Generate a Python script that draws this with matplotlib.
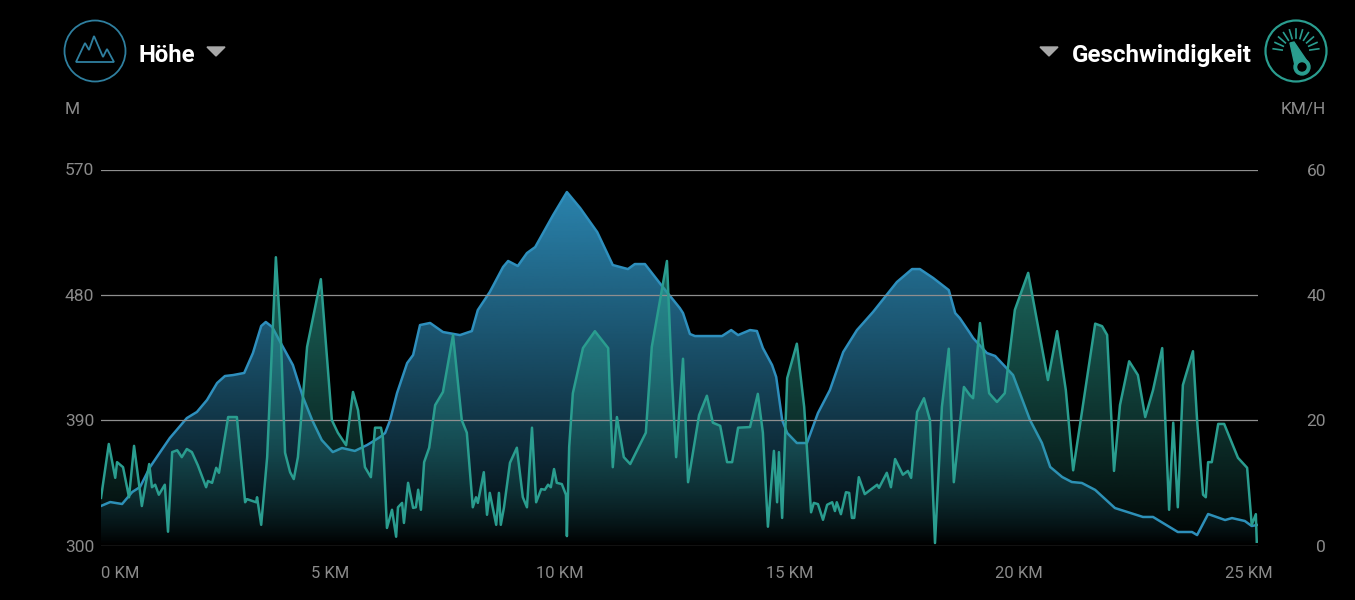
import matplotlib
matplotlib.use("Agg")
import matplotlib.pyplot as plt
import numpy as np
from matplotlib.patches import Circle, Polygon

plt.rcParams["font.family"] = ["Roboto", "DejaVu Sans"]

# Hoehe (m) ueber Strecke (km)
km_hoehe = [
    0.00, 0.20, 0.46, 0.68, 0.85, 1.07, 1.29, 1.50, 1.87, 2.09, 2.31, 2.53, 2.70, 2.88, 3.12,
    3.31, 3.49, 3.59, 3.73, 3.94, 4.18, 4.40, 4.60, 4.81, 5.05, 5.25, 5.53, 5.80, 6.08, 6.19,
    6.30, 6.45, 6.67, 6.80, 6.95, 7.17, 7.45, 7.82, 8.08, 8.21, 8.47, 8.76, 8.87, 9.08, 9.28,
    9.46, 9.85, 10.15, 10.44, 10.81, 11.15, 11.48, 11.63, 11.85, 12.24, 12.61, 12.68, 12.83,
    12.94, 13.53, 13.73, 13.88, 14.14, 14.29, 14.42, 14.62, 14.71, 14.84, 14.95, 15.16, 15.38,
    15.62, 15.88, 16.17, 16.47, 16.82, 17.34, 17.67, 17.84, 18.13, 18.47, 18.61, 18.71, 18.93,
    19.00, 19.30, 19.48, 19.87, 20.24, 20.50, 20.68, 20.94, 21.15, 21.37, 21.66, 22.09, 22.70,
    22.92, 23.46, 23.77, 23.88, 24.12, 24.49, 24.64, 24.92, 25.07, 25.18,
]
hoehe = [
    328.4, 331.2, 329.8, 338.4, 342.0, 356.4, 367.1, 377.2, 391.5, 395.9, 404.5, 416.7, 421.7,
    422.4, 423.9, 438.2, 457.6, 460.5, 456.9, 444.0, 429.6, 406.6, 390.1, 375.7, 367.1, 370.0,
    367.9, 372.2, 377.9, 380.8, 390.1, 409.5, 431.0, 436.8, 458.3, 459.8, 453.3, 451.1, 454.0,
    469.1, 482.0, 500.0, 504.3, 500.7, 510.0, 514.3, 537.3, 553.8, 542.3, 525.1, 501.4, 498.5,
    502.1, 502.1, 485.6, 470.5, 466.9, 451.9, 450.4, 450.4, 454.7, 451.1, 454.7, 454.0, 441.8,
    429.6, 421.0, 390.1, 380.8, 373.6, 373.6, 395.1, 411.6, 438.9, 454.7, 467.7, 489.2, 498.5,
    498.5, 492.1, 483.4, 466.9, 463.3, 452.6, 449.0, 438.2, 436.1, 422.4, 390.1, 373.6, 356.4,
    349.2, 345.6, 344.9, 339.9, 326.9, 320.5, 320.5, 309.7, 309.7, 307.5, 322.6, 318.3, 319.7,
    317.6, 314.0, 314.7,
]

# Geschwindigkeit (km/h) ueber Strecke (km)
km_tempo = [
    0.00, 0.17, 0.31, 0.35, 0.48, 0.61, 0.72, 0.89, 1.05, 1.11, 1.18, 1.26, 1.39, 1.46, 1.55,
    1.66, 1.76, 1.87, 1.98, 2.11, 2.29, 2.33, 2.42, 2.51, 2.57, 2.77, 2.96, 3.14, 3.18, 3.38,
    3.40, 3.49, 3.62, 3.73, 3.81, 3.92, 4.01, 4.12, 4.20, 4.29, 4.49, 4.79, 5.03, 5.16, 5.34,
    5.49, 5.60, 5.75, 5.88, 5.97, 6.10, 6.14, 6.23, 6.34, 6.43, 6.47, 6.56, 6.60, 6.69, 6.80,
    6.86, 6.91, 6.97, 7.04, 7.15, 7.28, 7.45, 7.67, 7.86, 7.97, 8.10, 8.17, 8.21, 8.34, 8.41,
    8.47, 8.61, 8.67, 8.71, 8.78, 8.91, 9.06, 9.19, 9.28, 9.39, 9.48, 9.59, 9.67, 9.74, 9.80,
    9.87, 9.93, 10.04, 10.13, 10.15, 10.20, 10.28, 10.50, 10.76, 11.05, 11.11, 11.15, 11.24,
    11.39, 11.53, 11.68, 11.87, 12.00, 12.33, 12.44, 12.53, 12.68, 12.79, 13.03, 13.20, 13.33,
    13.49, 13.64, 13.75, 13.88, 14.14, 14.31, 14.42, 14.53, 14.66, 14.73, 14.77, 14.84, 14.95,
    15.16, 15.32, 15.47, 15.53, 15.62, 15.73, 15.82, 15.93, 15.99, 16.03, 16.12, 16.23, 16.30,
    16.36, 16.41, 16.51, 16.64, 16.91, 16.95, 17.12, 17.21, 17.30, 17.47, 17.58, 17.65, 17.78,
    17.93, 18.06, 18.17, 18.32, 18.47, 18.58, 18.80, 18.93, 19.00, 19.15, 19.35, 19.52, 19.69,
    19.91, 20.20, 20.63, 20.83, 21.02, 21.18, 21.66, 21.81, 21.92, 22.07, 22.20, 22.40, 22.59,
    22.75, 22.92, 23.12, 23.27, 23.36, 23.46, 23.57, 23.79, 23.88, 24.01, 24.07, 24.12, 24.20,
    24.34, 24.47, 24.77, 24.97, 25.07, 25.16, 25.18,
]
tempo = [
    7.6, 16.2, 10.8, 13.3, 12.5, 7.7, 15.9, 6.3, 13.0, 9.3, 9.7, 8.1, 9.7, 2.2, 14.9,
    15.2, 14.1, 15.4, 14.9, 12.8, 9.3, 10.3, 10.0, 12.4, 11.6, 20.5, 20.5, 6.9, 7.4, 6.9,
    7.7, 3.3, 14.1, 32.8, 46.0, 32.8, 14.8, 11.7, 10.6, 14.1, 31.7, 42.5, 20.0, 18.0, 16.0,
    24.5, 21.6, 12.5, 10.9, 18.8, 18.8, 17.3, 2.8, 5.7, 1.4, 6.1, 6.8, 3.6, 10.0, 6.0,
    6.1, 8.9, 5.7, 13.3, 15.6, 22.4, 24.5, 33.6, 20.0, 18.0, 6.1, 7.7, 6.8, 11.7, 4.9,
    8.4, 3.3, 8.4, 3.3, 6.1, 13.2, 15.6, 7.7, 6.1, 18.8, 6.9, 9.0, 8.9, 9.7, 9.3,
    12.2, 10.0, 9.8, 8.1, 1.5, 15.7, 24.3, 31.5, 34.2, 31.5, 20.0, 12.5, 20.5,
    14.1, 13.0, 15.2, 18.0, 31.7, 45.4, 26.4, 14.1, 29.8, 10.1, 20.8, 23.9, 19.6,
    19.1, 13.3, 13.3, 18.8, 18.9, 24.2, 18.0, 3.0, 15.1, 6.9, 14.9, 4.4, 26.7,
    32.2, 22.1, 5.3, 6.8, 6.6, 4.1, 6.5, 6.9, 5.5, 6.9, 5.0, 8.5, 8.4,
    4.4, 4.4, 10.9, 8.2, 9.7, 9.2, 11.6, 9.3, 13.8, 11.3, 11.9, 10.8, 21.3,
    23.5, 20.0, 0.4, 22.1, 31.4, 10.1, 25.3, 24.0, 23.5, 35.5, 24.3, 22.9, 24.3,
    37.6, 43.5, 26.4, 34.2, 24.8, 12.0, 35.4, 35.0, 33.6, 11.9, 22.4, 29.4, 27.2,
    20.5, 24.8, 31.5, 5.7, 19.6, 6.1, 25.6, 31.0, 20.0, 8.1, 7.7, 13.3, 13.3,
    19.4, 19.4, 14.0, 12.4, 3.3, 5.0, 0.6,
]

km_ticks = [0, 5, 10, 15, 20, 25]
km_labels = ["0 KM", "5 KM", "10 KM", "15 KM", "20 KM", "25 KM"]
hoehe_ticks = [300, 390, 480, 570]
tempo_ticks = [0, 20, 40, 60]

BLAU = "#2e8fbd"
TEAL = "#2a9d8f"
GRAU = "#8a8a8a"


def verlauf(ax, x, y, y_unten, y_oben, farbe, alpha_oben):
    # vertikaler Farbverlauf, auf die Flaeche unter der Linie geschnitten
    rgb = matplotlib.colors.to_rgb(farbe)
    bild = np.zeros((256, 2, 4))
    bild[..., :3] = rgb
    bild[..., 3] = alpha_oben * np.linspace(1, 0, 256)[:, None] ** 0.85
    im = ax.imshow(bild, extent=(x[0], x[-1], y_unten, y_oben), aspect="auto",
                   origin="upper", zorder=1)
    poly = Polygon(list(zip(x, y)) + [(x[-1], y_unten), (x[0], y_unten)],
                   transform=ax.transData)
    im.set_clip_path(poly)


fig = plt.figure(figsize=(13.55, 6), dpi=100, facecolor="black")
ax = fig.add_axes([101 / 1355, 54.5 / 600, 1157 / 1355, 376 / 600], facecolor="black")
ax2 = ax.twinx()

verlauf(ax, km_hoehe, hoehe, 300, 554, BLAU, 0.92)
ax.plot(km_hoehe, hoehe, color=BLAU, lw=1.8, solid_joinstyle="round", zorder=2)
ax.set_xlim(0, 25.207)
ax.set_ylim(300, 570)
ax.set_xticks(km_ticks, km_labels)
ax.set_yticks(hoehe_ticks)

verlauf(ax2, km_tempo, tempo, 0, 46, TEAL, 0.66)
ax2.plot(km_tempo, tempo, color=TEAL, lw=1.8, solid_joinstyle="round", zorder=2)
ax2.set_ylim(0, 60)
ax2.set_xlim(0, 25.207)
ax2.set_yticks(tempo_ticks)
ax2.grid(axis="y", color="#8f8f8f", lw=0.9)

for a in (ax, ax2):
    for s in a.spines.values():
        s.set_visible(False)
ax.tick_params(axis="x", length=0, pad=14.5, labelsize=12, labelcolor=GRAU)
ax.tick_params(axis="y", length=0, pad=26, labelsize=12.5, labelcolor=GRAU)
ax2.tick_params(axis="y", length=0, pad=49, labelsize=12.5, labelcolor=GRAU)
for t in ax.get_yticklabels():
    t.set_ha("left")
    t.set_y(t.get_position()[1])
for t in ax2.get_yticklabels():
    t.set_ha("right")
ax.get_xticklabels()[0].set_ha("left")

# Kopfzeile und Icons in Pixelkoordinaten
top = fig.add_axes([0, 0, 1, 1], facecolor="none")
top.set_xlim(0, 1355)
top.set_ylim(600, 0)
top.axis("off")

top.text(139, 55.5, "Höhe", color="white", fontsize=17.2, fontweight="bold", va="center")
top.text(1252, 55.5, "Geschwindigkeit", color="white", fontsize=17.4, fontweight="bold",
         va="center", ha="right")
top.text(65, 109.5, "M", color=GRAU, fontsize=12.5, va="center")
top.text(1326, 109.5, "KM/H", color=GRAU, fontsize=12.5, va="center", ha="right")

grau_dreieck = "#a8a8a8"
top.add_patch(Polygon([(207, 47), (225, 47), (216, 56)], color=grau_dreieck))
top.add_patch(Polygon([(1040, 47), (1058, 47), (1049, 56)], color=grau_dreieck))

top.add_patch(Circle((95, 51), 30.5, fill=False, ec="#2f7f9f", lw=1.3))
berg = [(76, 62), (85, 43), (89, 50), (94, 36), (103, 57), (107, 49), (114, 62)]
top.add_patch(Polygon(berg, closed=True, fill=False, ec="#2f7f9f", lw=1.3))

top.add_patch(Circle((1296, 51), 30.5, fill=False, ec=TEAL, lw=1.6))
for w in np.linspace(172, 8, 11):
    r = np.radians(w)
    top.plot([1296 + 14 * np.cos(r), 1296 + 23 * np.cos(r)],
             [52 - 14 * np.sin(r), 52 - 23 * np.sin(r)], color=TEAL, lw=1.2)
top.add_patch(Polygon([(1290, 43), (1294, 42), (1309, 64), (1296, 70)], color=TEAL))
top.add_patch(Circle((1302, 67), 8, color=TEAL))
top.add_patch(Circle((1302, 67), 4, color="black"))

fig.savefig("out.png", dpi=100, facecolor="black")
